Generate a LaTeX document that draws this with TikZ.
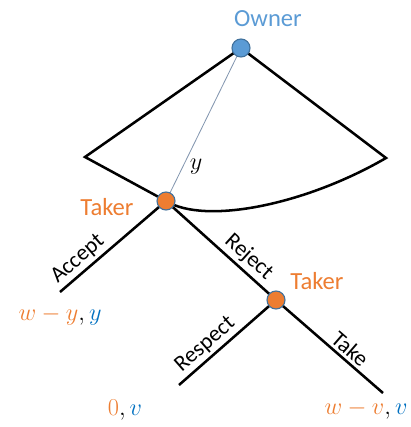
\documentclass[tikz,border=0pt]{standalone}
\usepackage{fontspec}
\setmainfont{Carlito}
\definecolor{ownblue}{HTML}{5B9BD5}
\definecolor{payblue}{HTML}{0070C0}
\definecolor{takorange}{HTML}{ED7D31}
\definecolor{rimblue}{HTML}{41719C}
\definecolor{guide}{HTML}{8497B0}

\begin{document}
\begin{tikzpicture}[x=0.025cm, y=-0.025cm]
\tikzset{player/.style={circle, draw=rimblue, line width=0.8pt, minimum size=0.45cm, inner sep=0pt},
    branch/.style={line width=1.8pt, black},
    who/.style={font=\fontsize{17.5}{20}\selectfont},
    act/.style={font=\fontsize{16}{18}\selectfont, sloped, above, inner sep=2pt},
    pay/.style={font=\fontsize{18}{21}\selectfont}}
\useasboundingbox (0,0) rectangle (410,427);

\coordinate (leftcorner) at (85,157);
\coordinate (rightcorner) at (386,158);
\coordinate (acceptend) at (60,292);
\coordinate (respectend) at (179,385);
\coordinate (takeend) at (383,393);
\coordinate (ownerpos) at (241,48);
\coordinate (taker1pos) at (166,201);
\coordinate (taker2pos) at (276,300);

% owner's offer fan
\draw[branch] (taker1pos) -- (leftcorner) -- (ownerpos) -- (rightcorner)
    .. controls (305,205) and (205,225) .. (taker1pos);
\draw[guide, line width=0.6pt] (ownerpos) -- (taker1pos);
\node[font=\fontsize{18}{21}\selectfont] (ylbl) at (196,167) {$y$};

% taker's moves
\draw[branch] (acceptend) -- node[act, pos=0.25] {Accept} (taker1pos);
\draw[branch] (taker1pos) -- node[act, pos=0.67] {Reject} (taker2pos);
\draw[branch] (respectend) -- node[act, pos=0.36] {Respect} (taker2pos);
\draw[branch] (taker2pos) -- node[act, pos=0.62] {Take} (takeend);

% decision nodes
\node[player, fill=ownblue] (owner) at (ownerpos) {};
\node[player, fill=takorange] (taker1) at (taker1pos) {};
\node[player, fill=takorange] (taker2) at (taker2pos) {};
\node[who, text=ownblue] (ownerlbl) at (268,19) {Owner};
\node[who, text=takorange] (taker1lbl) at (107,207) {Taker};
\node[who, text=takorange] (taker2lbl) at (317,281) {Taker};

% payoffs
\node[pay] (payaccept) at (60,316) {$\color{takorange}w-y\color{black},\color{payblue}y$};
\node[pay] (payrespect) at (125,410) {$\color{takorange}0\color{black},\color{payblue}v$};
\node[pay] (paytake) at (366,410) {$\color{takorange}w-v\color{black},\color{payblue}v$};

\end{tikzpicture}
\end{document}
